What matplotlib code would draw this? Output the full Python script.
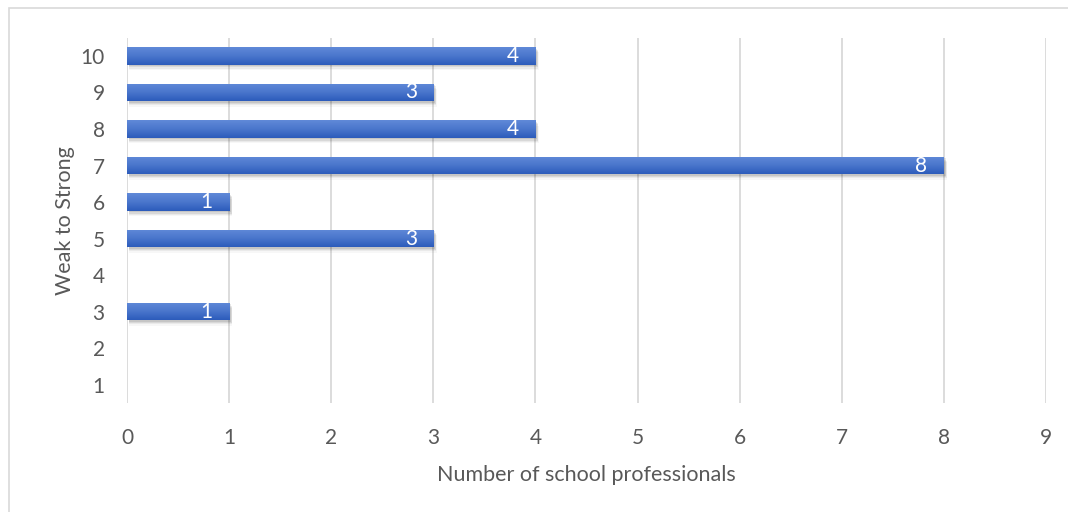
import numpy as np
import matplotlib.pyplot as plt
from matplotlib.patches import Rectangle
from matplotlib.colors import LinearSegmentedColormap

# ratings on the weak-to-strong scale and how many respondents gave each
ratings = [1, 2, 3, 4, 5, 6, 7, 8, 9, 10]
counts = [0, 0, 1, 0, 3, 1, 8, 4, 3, 4]
x_ticks = [0, 1, 2, 3, 4, 5, 6, 7, 8, 9]

plt.rcParams['font.family'] = ['Lato', 'DejaVu Sans']
text_grey = '#595959'
grid_grey = '#d9d9d9'
fs = 15

fig = plt.figure(figsize=(10.68, 5.12), dpi=100)
ax = fig.add_axes([0.1189, 0.2129, 0.8605, 0.7135])

# chart frame
fig.patches.append(Rectangle((9 / 1068, -0.1), 1.2, 1.1 - 8 / 512, transform=fig.transFigure,
                             fill=False, edgecolor='#d9d9d9', linewidth=1.2, zorder=0))

bar_h = 0.48
bars = ax.barh(ratings, counts, height=bar_h, color='none', edgecolor='none', zorder=3)

grad = LinearSegmentedColormap.from_list('bar', ['#2c5bbb', '#4a76cc', '#6089d8'])
grad_img = np.linspace(0, 1, 64).reshape(-1, 1)

for r, c, b in zip(ratings, counts, bars):
    if c == 0:
        continue
    # soft drop shadow under each bar
    for k, a in enumerate([0.09, 0.07, 0.05, 0.03]):
        off = 0.04 + 0.035 * k
        ax.add_patch(Rectangle((0.02, r - bar_h / 2 - off), c + 0.004 * k, bar_h,
                               facecolor='#000000', alpha=a, edgecolor='none', zorder=2))
    im = ax.imshow(grad_img, cmap=grad, aspect='auto', origin='lower',
                   extent=[0, c, r - bar_h / 2, r + bar_h / 2], zorder=3)
    im.set_clip_path(b)
    ax.text(c - 0.22, r, str(c), color='white', fontsize=fs, ha='center', va='center', zorder=4)

ax.set_xlim(0, 9)
ax.set_ylim(0.5, 10.5)
ax.set_xticks(x_ticks)
ax.set_yticks(ratings)
ax.xaxis.grid(True, color=grid_grey, linewidth=1.3, zorder=0)
ax.set_axisbelow(True)
for s in ax.spines.values():
    s.set_visible(False)
ax.tick_params(axis='both', length=0, labelsize=fs, colors=text_grey)
ax.tick_params(axis='x', pad=18)
ax.tick_params(axis='y', pad=16)

ax.set_xlabel('Number of school professionals', fontsize=15.5, color=text_grey, labelpad=12)
ax.set_ylabel('Weak to Strong', fontsize=15.5, color=text_grey, labelpad=4)

fig.savefig('out.png', dpi=100)
